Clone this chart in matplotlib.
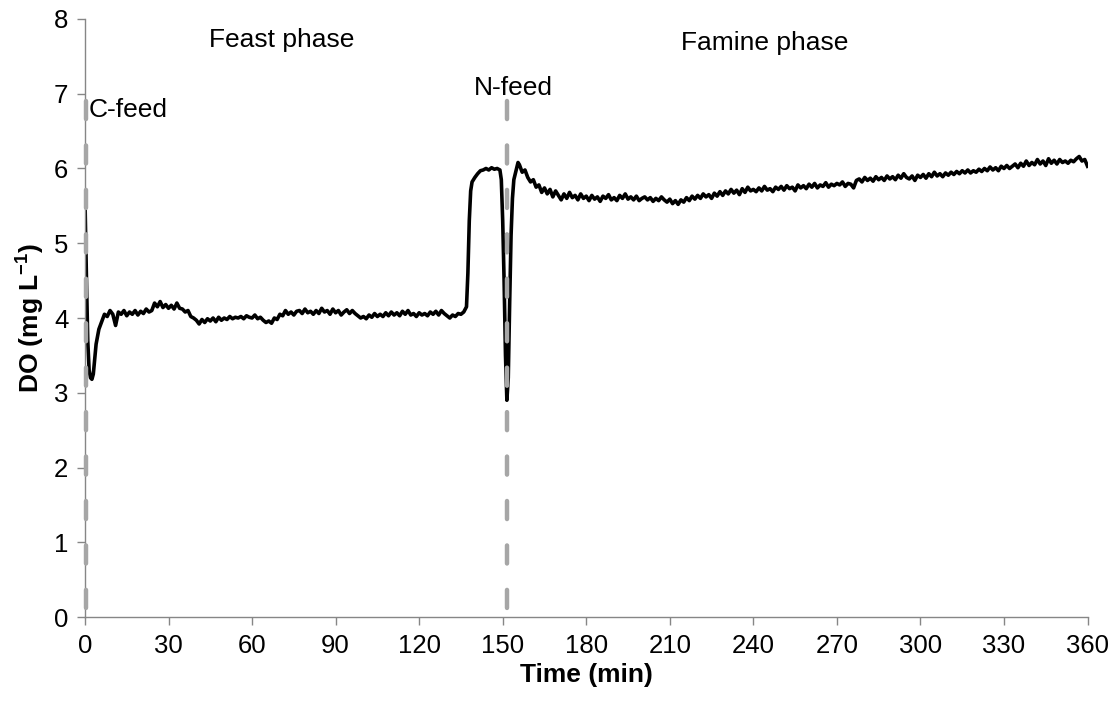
import numpy as np
import matplotlib
matplotlib.use("Agg")
import matplotlib.pyplot as plt

plt.rcParams['font.family'] = ['Liberation Sans', 'DejaVu Sans']
plt.rcParams['mathtext.fontset'] = 'custom'
plt.rcParams['mathtext.bf'] = 'Liberation Sans:bold'
plt.rcParams['mathtext.rm'] = 'Liberation Sans'
plt.rcParams['lines.scale_dashes'] = False

# start of the cycle: C-feed and oxygen dip
t_start = [0, 0.5, 1, 1.5, 2, 2.5, 3, 3.5, 4, 5, 6, 7, 8, 9, 10, 11, 12]
do_start = [5.6, 4.6, 3.7, 3.3, 3.2, 3.18, 3.25, 3.45, 3.65, 3.85, 3.95, 4.05,
            4.02, 4.1, 4.05, 3.9, 4.08]

# feast phase, one reading per minute (13..136)
t_feast = list(range(13, 137))
do_feast = [4.05, 4.1, 4.03, 4.08, 4.05, 4.1, 4.04, 4.09, 4.06, 4.12,
            4.08, 4.1, 4.2, 4.15, 4.22, 4.14, 4.18, 4.13, 4.17, 4.12,
            4.2, 4.13, 4.12, 4.08, 4.1, 4.02, 4.0, 3.97, 3.92, 3.98,
            3.94, 3.99, 3.96, 4.0, 3.95, 4.01, 3.97, 4.0, 3.98, 4.02,
            3.99, 4.01, 4.0, 4.02, 3.99, 4.03, 4.01, 4.0, 4.04, 3.99,
            4.01, 3.97, 3.94, 3.96, 3.93, 4.0, 3.98, 4.05, 4.03, 4.1,
            4.05, 4.08, 4.04, 4.09, 4.1, 4.06, 4.12, 4.07, 4.09, 4.05,
            4.1, 4.06, 4.13, 4.08, 4.1, 4.05, 4.12, 4.07, 4.1, 4.04,
            4.08, 4.11, 4.06, 4.1, 4.06, 4.03, 4.0, 4.02, 3.99, 4.04,
            4.01, 4.06, 4.02, 4.05, 4.02, 4.07, 4.03, 4.08, 4.04, 4.07,
            4.03, 4.09, 4.05, 4.1, 4.04, 4.06, 4.02, 4.07, 4.04, 4.06,
            4.03, 4.08, 4.05, 4.09, 4.04, 4.1, 4.06, 4.03, 4.0, 4.04,
            4.02, 4.06, 4.05, 4.08]

# substrate depleted, N-feed and second dip
t_nfeed = [137, 137.5, 138, 138.5, 139, 140, 141, 142, 143, 144, 145, 146,
           147, 148, 149, 149.5, 150, 150.5, 151, 151.5, 152, 152.5, 153,
           153.5, 154, 155, 155.5, 156, 157, 158, 159, 160, 161, 162, 163,
           164, 165, 166, 167, 168, 169, 170, 171, 172, 173, 174, 175, 176,
           177, 178, 179, 180]
do_nfeed = [4.15, 4.6, 5.3, 5.7, 5.82, 5.88, 5.93, 5.97, 5.98, 6.0, 5.98,
            6.01, 5.99, 6.0, 5.98, 5.85, 5.3, 4.5, 3.5, 2.9, 3.2, 4.2, 5.1,
            5.6, 5.85, 6.0, 6.08, 6.05, 5.95, 5.98, 5.88, 5.82, 5.85, 5.75,
            5.78, 5.68, 5.74, 5.66, 5.72, 5.62, 5.7, 5.64, 5.58, 5.66, 5.6,
            5.68, 5.61, 5.64, 5.58, 5.66, 5.6, 5.63]

# famine phase, one reading per minute (181..360)
t_famine = list(range(181, 361))
do_famine = [5.57, 5.64, 5.59, 5.62, 5.56, 5.63, 5.6, 5.65, 5.58, 5.61,
             5.57, 5.64, 5.6, 5.66, 5.59, 5.62, 5.58, 5.63, 5.57, 5.6,
             5.62, 5.58, 5.61, 5.56, 5.6, 5.57, 5.62, 5.58, 5.55, 5.59,
             5.53, 5.57, 5.52, 5.58, 5.55, 5.61, 5.57, 5.63, 5.59, 5.64,
             5.6, 5.66, 5.62, 5.65, 5.6, 5.67, 5.63, 5.69, 5.64, 5.7,
             5.66, 5.72, 5.67, 5.71, 5.65, 5.73, 5.68, 5.75, 5.7, 5.72,
             5.69, 5.74, 5.7, 5.76, 5.71, 5.73, 5.69, 5.75, 5.72, 5.76,
             5.71, 5.77, 5.73, 5.75, 5.7, 5.78, 5.74, 5.77, 5.73, 5.79,
             5.75, 5.8, 5.74, 5.78, 5.76, 5.81, 5.75, 5.79, 5.77, 5.8,
             5.78, 5.82, 5.76, 5.8, 5.79, 5.74, 5.84, 5.86, 5.82, 5.88,
             5.84, 5.87, 5.83, 5.89, 5.85, 5.88, 5.84, 5.9, 5.86, 5.89,
             5.85, 5.91, 5.87, 5.93, 5.88, 5.86, 5.9, 5.84, 5.91, 5.88,
             5.92, 5.87, 5.93, 5.89, 5.95, 5.9, 5.93, 5.89, 5.94, 5.91,
             5.95, 5.92, 5.96, 5.93, 5.97, 5.94, 5.98, 5.94, 5.97, 5.95,
             5.99, 5.96, 6.0, 5.97, 6.02, 5.98, 6.01, 5.97, 6.03, 6.0,
             6.04, 6.0, 6.03, 6.06, 6.01, 6.07, 6.03, 6.1, 6.04, 6.08,
             6.05, 6.12, 6.06, 6.1, 6.04, 6.13, 6.07, 6.11, 6.06, 6.12,
             6.08, 6.1, 6.07, 6.11, 6.09, 6.13, 6.16, 6.1, 6.12, 6.03]

feed_times = [0.5, 151.5]
feed_top = 6.9
feed_labels = ["C-feed", "N-feed"]
phase_labels = ["Feast phase", "Famine phase"]

time = np.array(t_start + t_feast + t_nfeed + t_famine)
do = np.array(do_start + do_feast + do_nfeed + do_famine)

fig = plt.figure(figsize=(11.12, 7.02), dpi=100)
ax = fig.add_axes([0.0764, 0.121, 0.9016, 0.852])

ax.plot(time, do, color='black', lw=2.6, zorder=2)
# dashed feed markers, drawn top-down so a dash starts under the label
for ft in feed_times:
    ax.plot([ft, ft], [feed_top, 0], color='#a6a6a6', lw=3.2,
            dashes=(13, 19), dash_capstyle='round', zorder=3, clip_on=False)

ax.text(1.4, 6.78, feed_labels[0], fontsize=19, ha='left', va='center')
ax.text(154, 7.08, feed_labels[1], fontsize=19, ha='center', va='center')
ax.text(70.8, 7.72, phase_labels[0], fontsize=19, ha='center', va='center')
ax.text(244, 7.68, phase_labels[1], fontsize=19, ha='center', va='center')

ax.set_xlim(0, 360)
ax.set_ylim(0, 8)
ax.set_xticks(np.arange(0, 361, 30))
ax.set_yticks(np.arange(0, 9, 1))
ax.tick_params(labelsize=18.5, direction='out', length=6, width=1,
               color='#868686', pad=6)
for side in ['top', 'right']:
    ax.spines[side].set_visible(False)
for side in ['left', 'bottom']:
    ax.spines[side].set_color('#868686')
    ax.spines[side].set_linewidth(1)

ax.set_xlabel('Time (min)', fontsize=19, fontweight='bold', labelpad=4)
ax.set_ylabel('DO (mg L$^{\\mathbf{-1}}$)', fontsize=19, fontweight='bold',
              labelpad=6)

fig.savefig('out.png', dpi=100)
